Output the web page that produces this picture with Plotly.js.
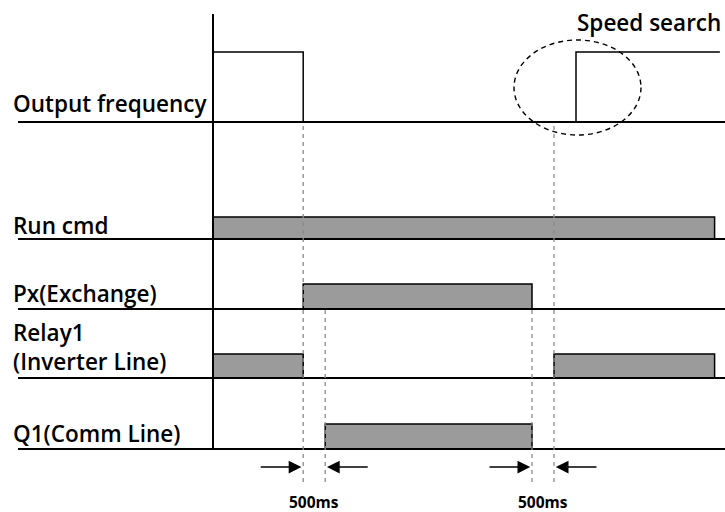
<!DOCTYPE html>
<html><head><meta charset="utf-8">
<script src="https://cdn.plot.ly/plotly-3.0.1.min.js"></script>
<style>html,body{margin:0;padding:0;background:#fff}#chart{width:725px;height:512px}</style>
</head><body><div id="chart"></div>
<script>
// ---------------- data (time in ms, logic level 0/1) ----------------
const rowLabels = ["Output frequency", "Run cmd", "Px(Exchange)", "Relay1<br>(Inverter Line)", "Q1(Comm Line)"];
const freqTimes   = [0, 0, 2050, 8250, 11520];
const freqLevels  = [0, 1, 0, 1, 1];
const runTimes    = [0, 0, 11400];
const runLevels   = [0, 1, 0];
const pxTimes     = [2050, 2050, 7250];
const pxLevels    = [0, 1, 0];
const relayTimes  = [0, 0, 2050, 7750, 11400];
const relayLevels = [0, 1, 0, 1, 0];
const q1Times     = [2550, 2550, 7250];
const q1Levels    = [0, 1, 0];
const delayStarts = [2050, 7250];
const delayMs     = [500, 500];
const delayLabels = ["500ms", "500ms"];
const speedSearchLabel = "Speed search";

// ---------------- layout helpers ----------------
const W = 725, H = 512;
const PXPERMS = 0.044, T0PX = 213;
const xp = v => v / W;
const yp = v => 1 - v / H;
const pad = 0.08;
// [baseline px, high px] per row
const rows = [[122, 52], [239, 217], [309, 284], [378, 354], [449, 424]];
const labelMid = [103, 225, 293, 347, 433];
const FONT = "Open Sans, Noto Sans, sans-serif";
const LSIZE = 22.5;

const series = [
  {t: freqTimes, l: freqLevels, fill: false},
  {t: runTimes, l: runLevels, fill: true},
  {t: pxTimes, l: pxLevels, fill: true},
  {t: relayTimes, l: relayLevels, fill: true},
  {t: q1Times, l: q1Levels, fill: true}
];

const traces = series.map((s, i) => ({
  type: 'scatter', mode: 'lines',
  x: s.t, y: s.l,
  xaxis: 'x', yaxis: i === 0 ? 'y' : 'y' + (i + 1),
  line: {shape: 'hv', color: '#000', width: 1.5},
  fill: s.fill ? 'tozeroy' : 'none',
  fillcolor: '#9b9b9b',
  hoverinfo: 'skip', showlegend: false
}));

const layout = {
  width: W, height: H,
  margin: {l: 0, r: 0, t: 0, b: 0},
  paper_bgcolor: '#fff', plot_bgcolor: 'rgba(0,0,0,0)',
  showlegend: false,
  xaxis: {range: [(0 - T0PX) / PXPERMS, (W - T0PX) / PXPERMS], visible: false, fixedrange: true},
  shapes: [], annotations: []
};

rows.forEach((r, i) => {
  const h = r[0] - r[1];
  const key = i === 0 ? 'yaxis' : 'yaxis' + (i + 1);
  layout[key] = {
    range: [-pad, 1 + pad], visible: false, fixedrange: true, anchor: 'x',
    domain: [yp(r[0] + pad * h), yp(r[1] - pad * h)]
  };
  // baseline
  layout.shapes.push({type: 'line', xref: 'paper', x0: xp(18), x1: 1,
    yref: i === 0 ? 'y' : 'y' + (i + 1), y0: 0, y1: 0,
    line: {color: '#000', width: 2}});
  // row label
  layout.annotations.push({xref: 'paper', yref: 'paper', x: xp(11), y: yp(labelMid[i]),
    xanchor: 'left', yanchor: 'middle', align: 'left', showarrow: false,
    text: rowLabels[i], font: {family: FONT, size: LSIZE, weight: 600, color: '#000'}});
});

// time origin axis
layout.shapes.push({type: 'line', xref: 'x', x0: 0, x1: 0, yref: 'paper', y0: yp(450), y1: yp(14),
  line: {color: '#000', width: 2}});

// dashed guide lines and delay arrows
delayStarts.forEach((t0, k) => {
  const t1 = t0 + delayMs[k];
  const topA = k === 0 ? 122 : 309;
  const topB = k === 0 ? 309 : 122;
  layout.shapes.push({type: 'line', xref: 'x', x0: t0, x1: t0, yref: 'paper', y0: yp(482), y1: yp(topA),
    line: {color: '#8a8a8a', width: 1.3, dash: '4px,4px'}});
  layout.shapes.push({type: 'line', xref: 'x', x0: t1, x1: t1, yref: 'paper', y0: yp(482), y1: yp(topB),
    line: {color: '#8a8a8a', width: 1.3, dash: '4px,4px'}});
  const arrowCommon = {xref: 'x', yref: 'paper', axref: 'x', ayref: 'paper', text: '',
    showarrow: true, arrowhead: 2, arrowsize: 1.7, arrowwidth: 1.5, arrowcolor: '#000', standoff: 0, startstandoff: 0};
  layout.annotations.push(Object.assign({}, arrowCommon, {x: t0 - 40, y: yp(467), ax: t0 - 1000, ay: yp(467)}));
  layout.annotations.push(Object.assign({}, arrowCommon, {x: t1 + 40, y: yp(467), ax: t1 + 1000, ay: yp(467)}));
  layout.annotations.push({xref: 'x', yref: 'paper', x: (t0 + t1) / 2, y: yp(502), xanchor: 'center', yanchor: 'middle',
    showarrow: false, text: delayLabels[k], font: {family: FONT, size: 15.5, weight: 700, color: '#000'}});
});

// speed search ellipse + label
layout.shapes.push({type: 'circle', xref: 'paper', yref: 'paper', x0: xp(514), x1: xp(641), y0: yp(135), y1: yp(40),
  line: {color: '#000', width: 1.4, dash: '5px,4px'}});
layout.annotations.push({xref: 'paper', yref: 'paper', x: xp(575), y: yp(22), xanchor: 'left', yanchor: 'middle',
  showarrow: false, text: speedSearchLabel, font: {family: FONT, size: LSIZE, weight: 600, color: '#000'}});

Plotly.newPlot('chart', traces, layout, {displayModeBar: false, staticPlot: true});
</script></body></html>
